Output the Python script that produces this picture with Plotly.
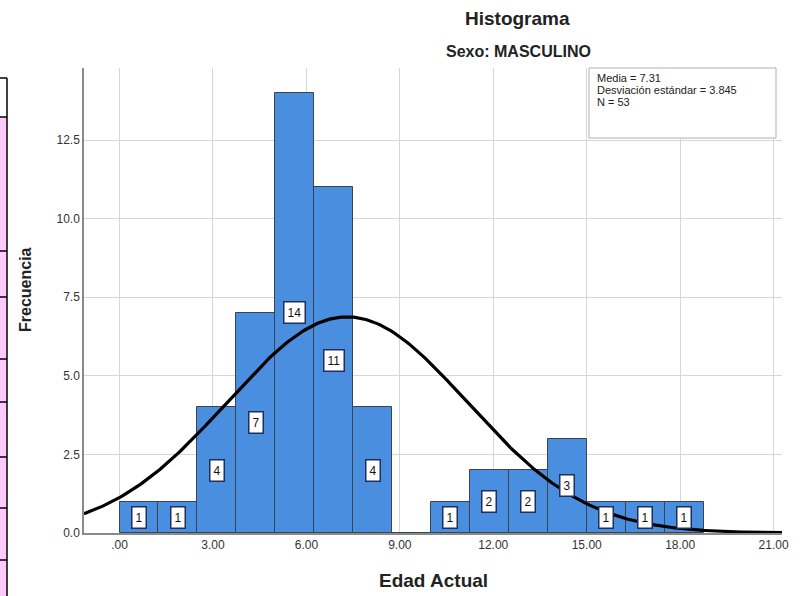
import numpy as np
import plotly.graph_objects as go

# ---- data ----
bin_starts = [0.0, 1.25, 2.5, 3.75, 5.0, 6.25, 7.5, 8.75, 10.0, 11.25, 12.5, 13.75, 15.0, 16.25, 17.5]
counts = [1, 1, 4, 7, 14, 11, 4, 0, 1, 2, 2, 3, 1, 1, 1]
bin_width = 1.25
mean_val = 7.31
std_val = 3.845
n_val = 53
x_tick_vals = [0, 3, 6, 9, 12, 15, 18, 21]
x_tick_text = [".00", "3.00", "6.00", "9.00", "12.00", "15.00", "18.00", "21.00"]
y_tick_vals = [0, 2.5, 5, 7.5, 10, 12.5]
y_tick_text = ["0.0", "2.5", "5.0", "7.5", "10.0", "12.5"]
stats_lines = [f"Media = {mean_val}", f"Desviación estándar = {std_val}", f"N = {n_val}"]

FONT = "Liberation Sans, Arial, sans-serif"
W, H = 808, 596
L, R, T, B = 84, 782, 68, 533
x_range = [-1.14, 21.27]
y_range = [0, 14.79]

def px(xp):
    return (xp - L) / (R - L)

def py(yp):
    return (B - yp) / (B - T)

centers = [s + bin_width / 2 for s in bin_starts]

fig = go.Figure()
fig.add_trace(go.Bar(
    x=centers, y=counts, width=bin_width,
    marker=dict(color="#4a8edf", line=dict(color="#3c4350", width=1)),
    hoverinfo="x+y", showlegend=False,
))

xs = np.linspace(x_range[0], x_range[1], 400)
ys = n_val * bin_width / (std_val * np.sqrt(2 * np.pi)) * np.exp(-0.5 * ((xs - mean_val) / std_val) ** 2)
fig.add_trace(go.Scatter(x=xs, y=ys, mode="lines", line=dict(color="black", width=3.2),
                         showlegend=False, hoverinfo="skip"))

annotations = []
for c, v in zip(centers, counts):
    if v > 0:
        annotations.append(dict(
            x=c, y=v / 2, xref="x", yref="y", text=str(v), showarrow=False,
            font=dict(family=FONT, size=12, color="#111111"),
            bgcolor="white", bordercolor="#1f2f5c", borderwidth=1.5, borderpad=3,
        ))

annotations += [
    dict(x=px(517), y=py(19), xref="paper", yref="paper", text="<b>Histograma</b>",
         showarrow=False, font=dict(family=FONT, size=19, color="#222222"),
         xanchor="center", yanchor="middle"),
    dict(x=px(518), y=py(52), xref="paper", yref="paper", text="<b>Sexo: MASCULINO</b>",
         showarrow=False, font=dict(family=FONT, size=16, color="#222222"),
         xanchor="center", yanchor="middle"),
    dict(x=px(433), y=py(580), xref="paper", yref="paper", text="<b>Edad Actual</b>",
         showarrow=False, font=dict(family=FONT, size=19, color="#222222"),
         xanchor="center", yanchor="middle"),
    dict(x=px(25), y=py(290), xref="paper", yref="paper", text="<b>Frecuencia</b>",
         showarrow=False, textangle=-90, font=dict(family=FONT, size=16, color="#222222"),
         xanchor="center", yanchor="middle"),
]
for i, line in enumerate(stats_lines):
    annotations.append(dict(
        x=px(595), y=py(78 + 12 * i), xref="paper", yref="paper", text=line,
        showarrow=False, align="left", font=dict(family=FONT, size=11, color="#222222"),
        xanchor="left", yanchor="middle"))

shapes = [
    dict(type="rect", xref="paper", yref="paper", x0=px(589), x1=px(776), y0=py(138), y1=py(68),
         line=dict(color="#b0b0b0", width=1), fillcolor="white", layer="above"),
]

# left-edge table fragment
table_lines = [78, 117, 251, 297, 359, 402, 457, 508, 560]
shapes.append(dict(type="rect", xref="paper", yref="paper", x0=px(0), x1=px(7),
                   y0=py(596), y1=py(117), fillcolor="#fccafc", line=dict(width=0), layer="below"))
shapes.append(dict(type="line", xref="paper", yref="paper", x0=px(7), x1=px(7),
                   y0=py(596), y1=py(78), line=dict(color="black", width=1.5)))
for yl in table_lines:
    shapes.append(dict(type="line", xref="paper", yref="paper", x0=px(0), x1=px(7),
                       y0=py(yl), y1=py(yl), line=dict(color="black", width=1.5)))

fig.update_layout(
    width=W, height=H,
    margin=dict(l=L, r=W - R, t=T, b=H - B, pad=0),
    paper_bgcolor="white", plot_bgcolor="white",
    bargap=0,
    annotations=annotations, shapes=shapes,
    font=dict(family=FONT),
)
fig.update_xaxes(range=x_range, tickvals=x_tick_vals, ticktext=x_tick_text,
                 showgrid=True, gridcolor="#d6d6d6", gridwidth=1,
                 showline=True, linecolor="#8a8a8a", linewidth=1.5,
                 ticks="", tickfont=dict(family=FONT, size=12, color="#333333"),
                 zeroline=False, fixedrange=True)
fig.update_yaxes(range=y_range, tickvals=y_tick_vals, ticktext=y_tick_text,
                 showgrid=True, gridcolor="#d6d6d6", gridwidth=1,
                 showline=True, linecolor="#8a8a8a", linewidth=1.5,
                 ticks="", tickfont=dict(family=FONT, size=12, color="#333333"),
                 zeroline=False, fixedrange=True)

fig.write_html("out.html", config={"displayModeBar": False},
               post_script="document.body.style.margin='0';document.body.style.padding='0';")
